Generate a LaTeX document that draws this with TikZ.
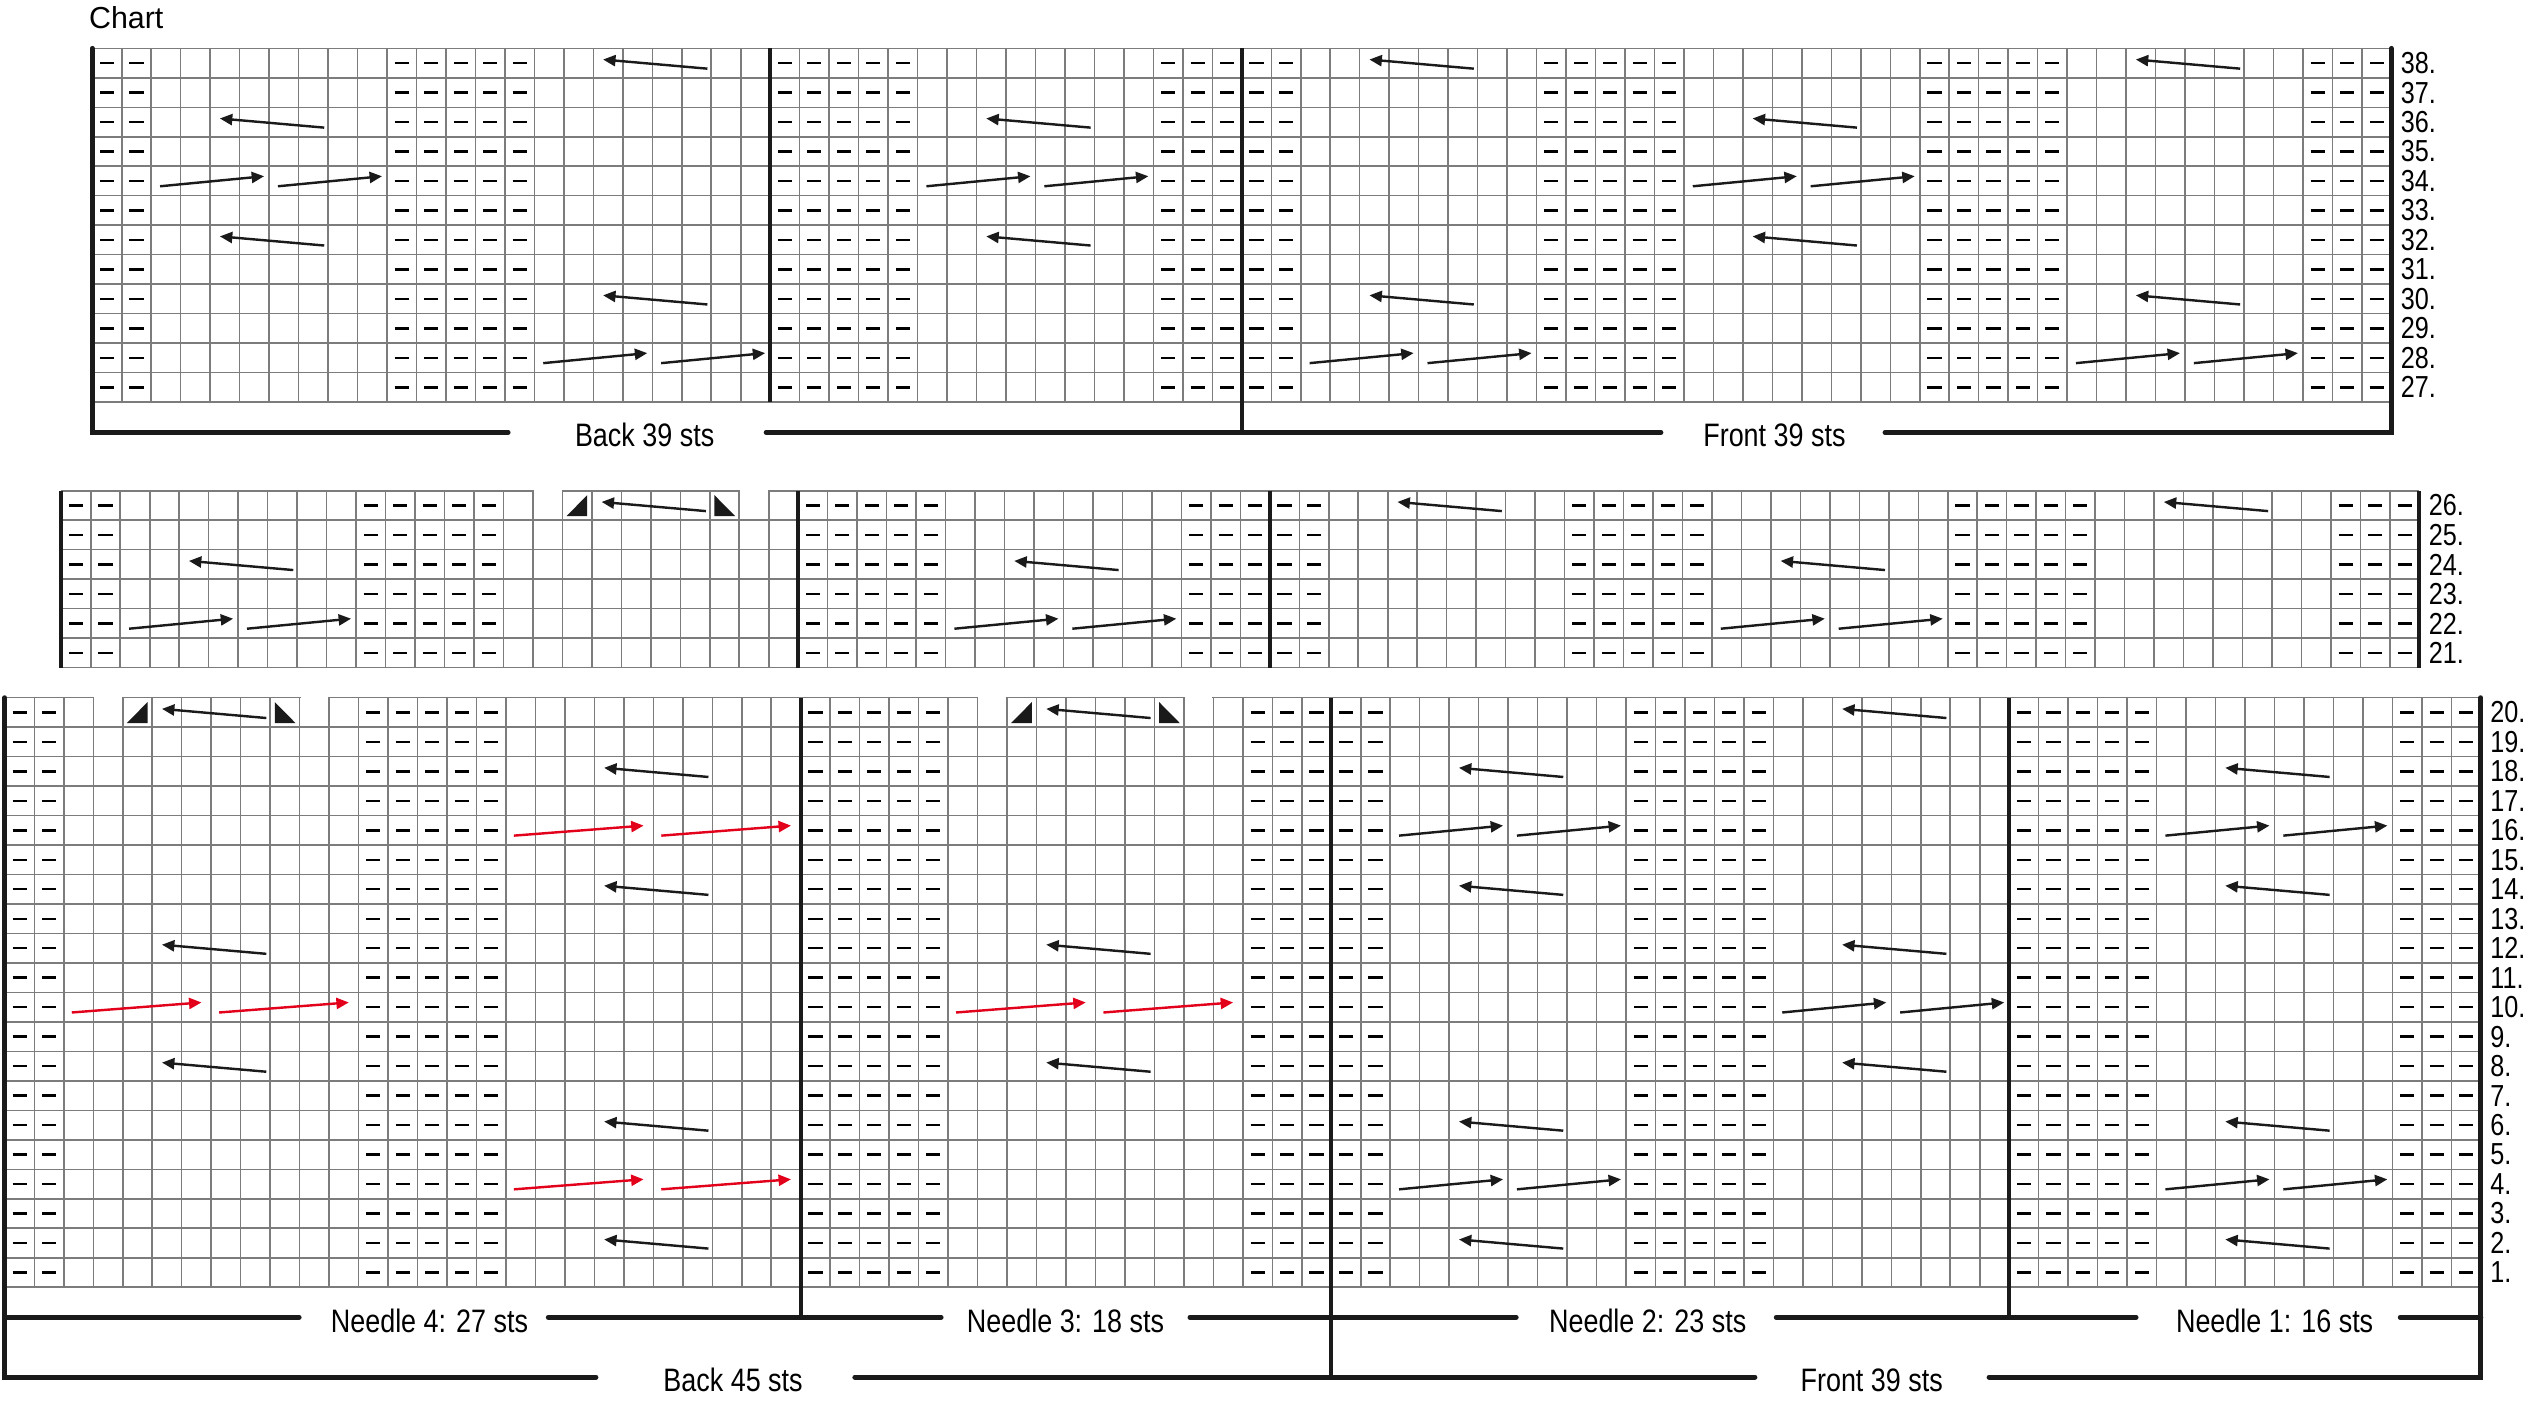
\documentclass[tikz,border=0pt]{standalone}
\usepackage{fontspec}
\setmainfont{Liberation Sans}
\newfontfamily\narrowsf[FakeStretch=0.83]{Liberation Sans}
\usetikzlibrary{arrows.meta}
\definecolor{gridgray}{HTML}{7C7C7C}
\definecolor{ink}{HTML}{1A1A1A}
\definecolor{cablered}{HTML}{E2001A}
\tikzset{
  gridline/.style={draw=gridgray,line width=.45pt,step=1},
  heavy/.style={draw=ink,line width=1.2pt},
  brace/.style={heavy,line width=1.4pt,line cap=round},
  purl/.style={draw=black,line width=.7pt},
  cable/.style={draw=ink,color=ink,line width=.7pt,-{Triangle[length=3.6pt,width=3.2pt]}},
  redcable/.style={cable,draw=cablered,color=cablered},
  dectri/.style={fill=ink},
  chartlab/.style={font=\fontsize{8.8}{10}\selectfont,anchor=base west,inner sep=0pt},
  rowlab/.style={font=\narrowsf\fontsize{8.8}{10}\selectfont,anchor=west,inner sep=0pt},
  bracelab/.style={font=\narrowsf\fontsize{9.4}{10}\selectfont,anchor=base,inner sep=0pt}}

\begin{document}
\begin{tikzpicture}[x=3mm,y=3mm]
\useasboundingbox (0,0) rectangle (85.97,-47.57);
\node[chartlab] (chart) at (3.0,-.96) {Chart};
% rows 27-38
\begin{scope}[shift={(3.13,-1.64)}]
\draw[gridline] (0,0) grid (78,-12);
\foreach \a/\b in {0/1,10/14,23/27,36/40,49/53,62/66,75/77} \foreach \c in {\a,...,\b}
 \draw[purl] \foreach \r in {1,...,12} {(\c+.26,.5-\r)--++(.48,0)};
\foreach \a/\k in {17/0,43/0,69/0,4/2,30/2,56/2,4/6,30/6,56/6,17/8,43/8,69/8}
 \draw[cable] (\a+3.87,-\k-.69)--(\a+.33,-\k-.38);
\foreach \a/\k in {2/4,6/4,28/4,32/4,54/4,58/4,15/10,19/10,41/10,45/10,67/10,71/10}
 \draw[cable] (\a+.3,-\k-.68)--(\a+3.83,-\k-.34);
\draw[heavy] (23,0)--(23,-12) (39,0)--(39,-13.03);
\draw[brace] (14.11,-13.03)--(0,-13.03)--(0,0);
\draw[brace] (22.86,-13.03)--(53.22,-13.03);
\draw[brace] (60.82,-13.03)--(78,-13.03)--(78,0);
\node[bracelab] (back1) at (18.74,-13.52) {Back 39 sts};
\node[bracelab] (front1) at (57.07,-13.52) {Front 39 sts};
\foreach \n [count=\k from 0] in {38,37,...,27} \node[rowlab] (row\n) at (78.3,-\k-.5) {\n.};
\end{scope}
% rows 21-26
\begin{scope}[shift={(2.08,-16.65)}]
\draw[gridline] (0,0) grid (80,-6);
\foreach \c in {16,23} \fill[white] (\c+.03,.1) rectangle (\c+.97,-.1);
\foreach \a/\b in {0/1,10/14,25/29,38/42,51/55,64/68,77/79} \foreach \c in {\a,...,\b}
 \draw[purl] \foreach \r in {1,...,6} {(\c+.26,.5-\r)--++(.48,0)};
\fill[dectri] (17.14,-.86)--(17.84,-.86)--(17.84,-.15)--cycle;
\fill[dectri] (22.16,-.15)--(22.16,-.86)--(22.86,-.86)--cycle;
\foreach \a/\k in {18/0,45/0,71/0,4/2,32/2,58/2}
 \draw[cable] (\a+3.87,-\k-.69)--(\a+.33,-\k-.38);
\foreach \a/\k in {2/4,6/4,30/4,34/4,56/4,60/4}
 \draw[cable] (\a+.3,-\k-.68)--(\a+3.83,-\k-.34);
\draw[heavy] (0,0)--(0,-6) (25,0)--(25,-6) (41,0)--(41,-6) (80,0)--(80,-6);
\foreach \n [count=\k from 0] in {26,25,...,21} \node[rowlab] (row\n) at (80.3,-\k-.5) {\n.};
\end{scope}
% rows 1-20
\begin{scope}[shift={(.165,-23.67)}]
\draw[gridline] (0,0) grid (84,-20);
\foreach \c in {3,10,33,40} \fill[white] (\c+.03,.1) rectangle (\c+.97,-.1);
\foreach \a/\b in {0/1,12/16,27/31,42/46,55/59,68/72,81/83} \foreach \c in {\a,...,\b}
 \draw[purl] \foreach \r in {1,...,20} {(\c+.26,.5-\r)--++(.48,0)};
\foreach \c in {4,34} \fill[dectri] (\c+.14,-.86)--(\c+.84,-.86)--(\c+.84,-.15)--cycle;
\foreach \c in {9,39} \fill[dectri] (\c+.16,-.15)--(\c+.16,-.86)--(\c+.86,-.86)--cycle;
\foreach \a/\k in {5/0,35/0,62/0,20/2,49/2,75/2,20/6,49/6,75/6,5/8,35/8,62/8,
  5/12,35/12,62/12,20/14,49/14,75/14,20/18,49/18,75/18}
 \draw[cable] (\a+3.87,-\k-.69)--(\a+.33,-\k-.38);
\foreach \a/\k in {47/4,51/4,73/4,77/4,60/10,64/10,47/16,51/16,73/16,77/16}
 \draw[cable] (\a+.3,-\k-.68)--(\a+3.83,-\k-.34);
\foreach \a/\k in {17/4,22/4,2/10,7/10,32/10,37/10,17/16,22/16}
 \draw[redcable] (\a+.27,-\k-.68)--(\a+4.67,-\k-.34);
\draw[heavy] (27,0)--(27,-21.02) (45,0)--(45,-23.05) (68,0)--(68,-21.02);
\draw[brace] (20.055,-23.05)--(0,-23.05)--(0,0);
\draw[brace] (0,-21.02)--(9.985,-21.02) (18.435,-21.02)--(31.765,-21.02)
  (40.205,-21.02)--(51.275,-21.02) (60.095,-21.02)--(72.305,-21.02) (81.265,-21.02)--(84,-21.02);
\draw[brace] (28.835,-23.05)--(59.375,-23.05);
\draw[brace] (67.315,-23.05)--(84,-23.05)--(84,0);
\node[bracelab] (needle4) at (14.405,-21.55) {Needle 4: 27 sts};
\node[bracelab] (needle3) at (35.985,-21.55) {Needle 3: 18 sts};
\node[bracelab] (needle2) at (55.735,-21.55) {Needle 2: 23 sts};
\node[bracelab] (needle1) at (77.005,-21.55) {Needle 1: 16 sts};
\node[bracelab] (back2) at (24.705,-23.55) {Back 45 sts};
\node[bracelab] (front2) at (63.335,-23.55) {Front 39 sts};
\foreach \n [count=\k from 0] in {20,19,...,1} \node[rowlab] (row\n) at (84.3,-\k-.5) {\n.};
\end{scope}
\end{tikzpicture}
\end{document}
